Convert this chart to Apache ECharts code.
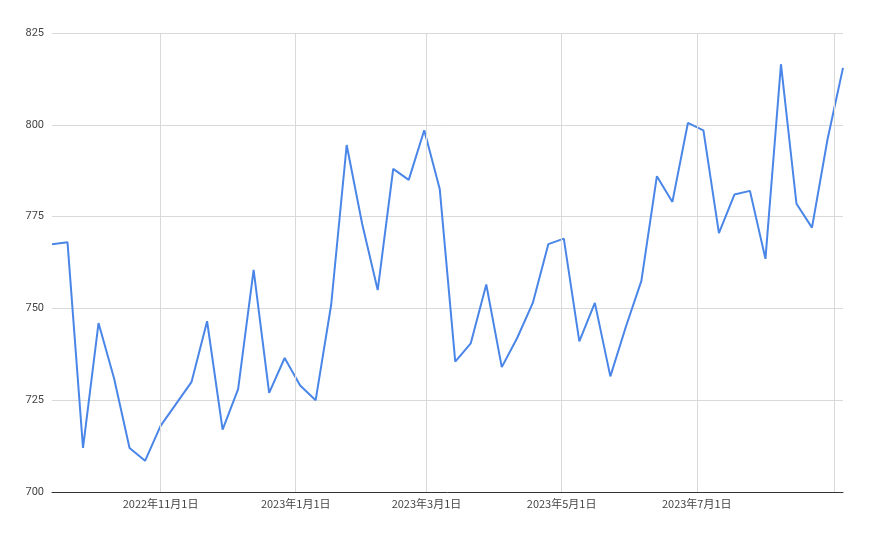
<!DOCTYPE html>
<html>
<head>
<meta charset="utf-8">
<script src="https://cdn.jsdelivr.net/npm/echarts@6/dist/echarts.min.js"></script>
<style>html,body{margin:0;background:#fff}#c{width:870px;height:537px}</style>
</head>
<body>
<div id="c"></div>
<script>
const startDate = "2022-09-13";
const values = [767.5, 768, 712, 746, 731, 712, 708.5, 718, 724, 730, 746.5, 717, 728, 760.5,
  727, 736.5, 729, 725, 751, 794.5, 773, 755, 788, 785, 798.5, 782.5, 735.5, 740.5, 756.5,
  734, 742, 751.5, 767.5, 769, 741, 751.5, 731.5, 745, 757.5, 786, 779, 800.5, 798.5, 770.5,
  781, 782, 763.5, 816.5, 778.5, 772, 796, 815.5];
const tickDates = ["2022-11-01", "2023-01-01", "2023-03-01", "2023-05-01", "2023-07-01", "2023-09-01"];
const tickLabels = ["2022年11月1日", "2023年1月1日", "2023年3月1日", "2023年5月1日", "2023年7月1日", ""];

const day = 86400000;
const t0 = Date.parse(startDate);
const data = values.map((v, i) => [t0 + i * 7 * day, v]);

const chart = echarts.init(document.getElementById("c"));
chart.setOption({
  animation: false,
  grid: { left: 52, right: 27, top: 33, bottom: 45 },
  xAxis: {
    type: "time",
    min: data[0][0],
    max: data[data.length - 1][0],
    axisLabel: { show: false },
    axisTick: { show: false },
    splitLine: { show: false },
    axisLine: { lineStyle: { color: "#333", width: 1 } }
  },
  yAxis: {
    type: "value",
    min: 700, max: 825, interval: 25,
    axisLabel: { color: "#444", fontSize: 11, fontFamily: "Roboto", margin: 8 },
    axisLine: { show: false },
    axisTick: { show: false },
    splitLine: { lineStyle: { color: "#d9d9d9" } }
  },
  series: [{
    type: "line",
    data: data,
    showSymbol: false,
    lineStyle: { color: "#4a86e8", width: 2 },
    itemStyle: { color: "#4a86e8" },
    z: 3,
    markLine: {
      silent: true,
      symbol: "none",
      animation: false,
      lineStyle: { color: "#d9d9d9", type: "solid", width: 1 },
      label: {
        position: "start", distance: 6, color: "#444", fontSize: 11,
        fontFamily: "Noto Sans CJK JP",
        formatter: p => tickLabels[tickDates.indexOf(p.name)]
      },
      data: tickDates.map(d => ({ name: d, xAxis: Date.parse(d) }))
    }
  }]
});
</script>
</body>
</html>
